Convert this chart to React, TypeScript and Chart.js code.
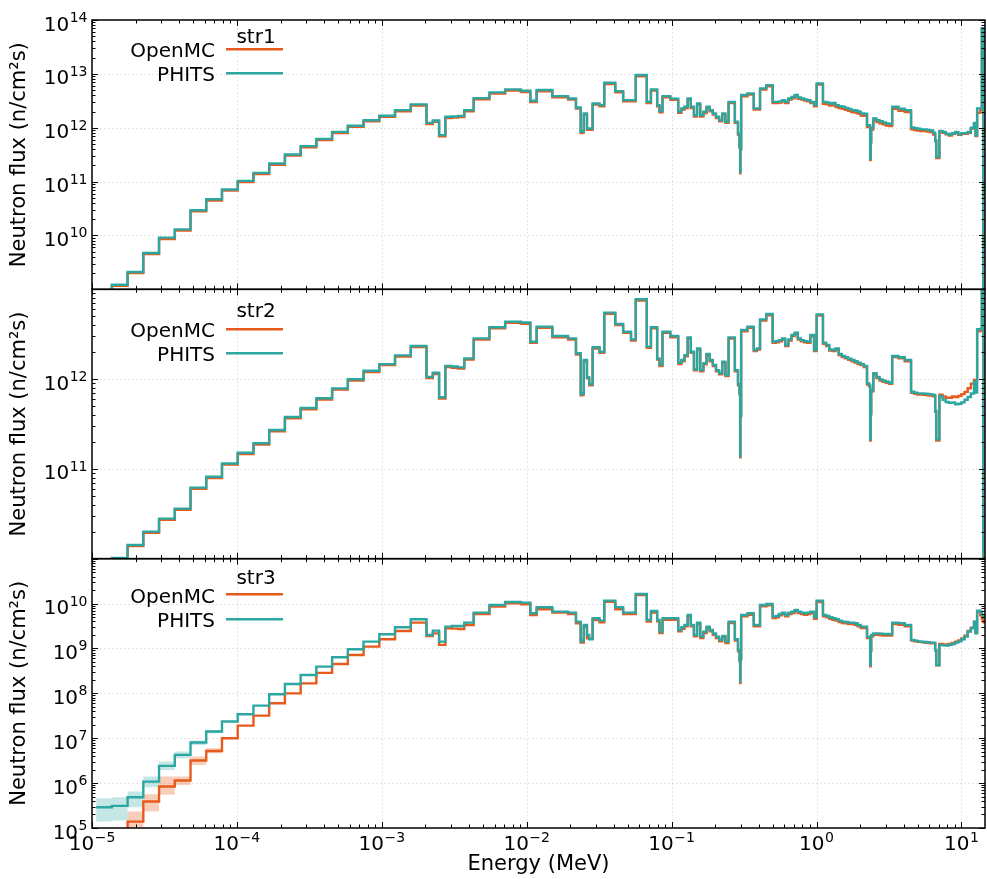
import React, { useEffect, useRef } from "react";
import { Chart, registerables } from "chart.js";

Chart.register(...registerables);

// VITAMIN-J group boundaries (MeV) used for the step plots
const energyEdges = [
  1.0677e-5, 1.371e-5, 1.7603e-5, 2.2603e-5, 2.9023e-5, 3.7266e-5, 4.7851e-5, 6.1442e-5, 7.8893e-5, 1.013e-4,
  1.3007e-4, 1.6702e-4, 2.1445e-4, 2.7536e-4, 3.5357e-4, 4.54e-4, 5.8295e-4, 7.4852e-4, 9.6112e-4, 1.2341e-3,
  1.5846e-3, 2.0347e-3, 2.2487e-3, 2.4852e-3, 2.6126e-3, 2.7465e-3, 3.0354e-3, 3.3546e-3, 3.7074e-3, 4.3074e-3,
  5.5308e-3, 7.1017e-3, 9.1188e-3, 1.0595e-2, 1.1709e-2, 1.5034e-2, 1.9304e-2, 2.1875e-2, 2.3579e-2, 2.4176e-2,
  2.4788e-2, 2.6058e-2, 2.7e-2, 2.85e-2, 3.1828e-2, 3.4307e-2, 4.0868e-2, 4.6309e-2, 5.2475e-2, 5.6562e-2,
  6.7379e-2, 7.2e-2, 7.95e-2, 8.25e-2, 8.6517e-2, 9.8037e-2, 1.1109e-1, 1.1679e-1, 1.2277e-1, 1.2907e-1,
  1.3569e-1, 1.4264e-1, 1.4996e-1, 1.5764e-1, 1.6573e-1, 1.7422e-1, 1.8316e-1, 1.9255e-1, 2.0242e-1, 2.128e-1,
  2.2371e-1, 2.3518e-1, 2.4724e-1, 2.7324e-1, 2.8725e-1, 2.9452e-1, 2.9721e-1, 2.9849e-1, 3.0197e-1, 3.3373e-1,
  3.6883e-1, 3.8774e-1, 4.0762e-1, 4.5049e-1, 4.9787e-1, 5.234e-1, 5.5023e-1, 5.7844e-1, 6.081e-1, 6.3928e-1,
  6.7206e-1, 7.0651e-1, 7.4274e-1, 7.8082e-1, 8.2085e-1, 8.6294e-1, 9.0718e-1, 9.6164e-1, 1.0026, 1.108,
  1.1648, 1.2246, 1.2874, 1.3534, 1.4227, 1.4957, 1.5724, 1.653, 1.7377, 1.8268,
  1.9205, 2.019, 2.1225, 2.2313, 2.3069, 2.3457, 2.3653, 2.3851, 2.466, 2.5924,
  2.7253, 2.865, 3.0119, 3.1664, 3.3287, 3.6788, 4.0657, 4.4933, 4.7237, 4.9659,
  5.2205, 5.4881, 5.7695, 6.0653, 6.3763, 6.5924, 6.7032, 7.0469, 7.4082, 7.788,
  8.1873, 8.6071, 9.0484, 9.5123, 10.0, 10.513, 11.052, 11.618, 12.214, 12.523,
  12.84, 13.499, 13.84, 14.191, 14.55,
];

const str1PHITS = [
  6.3e8, 1.22e9, 2.1e9, 4.73e9, 9.1e9, 1.3e10, 2.94e10, 4.71e10, 7.13e10, 1.03e11,
  1.45e11, 2.17e11, 3.19e11, 4.55e11, 6.22e11, 8.39e11, 1.09e12, 1.38e12, 1.67e12, 2.12e12,
  2.71e12, 1.23e12, 1.36e12, 7.28e11, 7.28e11, 1.6e12, 1.62e12, 1.66e12, 2.12e12, 3.55e12,
  4.53e12, 5.15e12, 4.85e12, 3.16e12, 5.01e12, 3.86e12, 3.5e12, 2.38e12, 8.39e11, 8.5e11,
  1.84e12, 9.68e11, 9.68e11, 2.82e12, 2.63e12, 6.84e12, 4.79e12, 3.26e12, 3.26e12, 9.5e12,
  3.03e12, 5.15e12, 2.63e12, 2.04e12, 3.86e12, 3.47e12, 2.0e12, 2.29e12, 2.45e12, 3.5e12,
  2.45e12, 1.71e12, 2.82e12, 1.71e12, 1.98e12, 2.45e12, 2.12e12, 1.84e12, 1.6e12, 1.38e12,
  1.84e12, 1.29e12, 3.02e12, 1.29e12, 7.76e11, 4.47e11, 1.51e11, 4.12e11, 4.04e12, 4.34e12,
  2.29e12, 2.29e12, 5.37e12, 6.19e12, 3.02e12, 3.02e12, 3.09e12, 3.24e12, 3.02e12, 3.5e12,
  3.72e12, 4.04e12, 3.63e12, 3.5e12, 3.36e12, 3.24e12, 3.02e12, 2.63e12, 6.65e12, 3.02e12,
  2.95e12, 2.82e12, 2.88e12, 2.63e12, 2.51e12, 2.45e12, 2.34e12, 2.24e12, 2.12e12, 2.09e12,
  2.0e12, 1.84e12, 1.82e12, 1.12e12, 1.12e12, 2.69e11, 5.62e11, 1.0e12, 1.48e12, 1.38e12,
  1.32e12, 1.26e12, 1.2e12, 1.17e12, 2.45e12, 2.25e12, 2.12e12, 1.01e12, 9.77e11, 9.55e11,
  9.33e11, 9.33e11, 9.12e11, 8.91e11, 8.05e11, 5.89e11, 2.88e11, 8.71e11, 8.32e11, 7.76e11,
  7.41e11, 7.94e11, 8.32e11, 7.59e11, 7.94e11, 7.94e11, 8.32e11, 1.0e12, 1.23e12, 7.24e11,
  2.29e12, 2.29e12, 7.08e13, 3e8,
];

const str1OpenMC = [
  6.0e8, 1.16e9, 2.0e9, 4.5e9, 8.6e9, 1.23e10, 2.8e10, 4.47e10, 6.8e10, 9.8e10,
  1.38e11, 2.06e11, 3.03e11, 4.32e11, 5.9e11, 7.97e11, 1.04e12, 1.31e12, 1.59e12, 2.01e12,
  2.57e12, 1.17e12, 1.29e12, 6.9e11, 6.9e11, 1.52e12, 1.54e12, 1.58e12, 2.01e12, 3.37e12,
  4.3e12, 4.9e12, 4.6e12, 3.0e12, 4.76e12, 3.67e12, 3.33e12, 2.26e12, 7.97e11, 8.1e11,
  1.75e12, 9.2e11, 9.2e11, 2.68e12, 2.5e12, 6.5e12, 4.55e12, 3.1e12, 3.1e12, 9.0e12,
  2.88e12, 4.9e12, 2.5e12, 1.94e12, 3.67e12, 3.3e12, 1.9e12, 2.18e12, 2.33e12, 3.33e12,
  2.33e12, 1.62e12, 2.68e12, 1.62e12, 1.88e12, 2.33e12, 2.01e12, 1.75e12, 1.52e12, 1.31e12,
  1.75e12, 1.23e12, 2.87e12, 1.23e12, 7.37e11, 4.25e11, 1.43e11, 3.91e11, 3.84e12, 4.12e12,
  2.18e12, 2.18e12, 5.1e12, 5.88e12, 2.87e12, 2.87e12, 2.94e12, 3.08e12, 2.87e12, 3.33e12,
  3.53e12, 3.84e12, 3.45e12, 3.33e12, 3.19e12, 3.08e12, 2.87e12, 2.5e12, 6.32e12, 2.78e12,
  2.71e12, 2.59e12, 2.65e12, 2.42e12, 2.31e12, 2.25e12, 2.15e12, 2.06e12, 1.95e12, 1.92e12,
  1.84e12, 1.69e12, 1.67e12, 1.03e12, 1.03e12, 2.5e11, 5.2e11, 9.3e11, 1.37e12, 1.27e12,
  1.21e12, 1.16e12, 1.1e12, 1.08e12, 2.25e12, 2.07e12, 1.95e12, 9.4e11, 9.1e11, 8.9e11,
  8.7e11, 8.7e11, 8.5e11, 8.3e11, 7.5e11, 5.6e11, 2.74e11, 8.45e11, 8.07e11, 7.53e11,
  7.19e11, 7.7e11, 8.07e11, 7.36e11, 7.7e11, 7.7e11, 8.07e11, 9.7e11, 1.19e12, 7.0e11,
  1.9e12, 2.15e12, 6.9e13, 3e8,
];

const str2PHITS = [
  6.3e9, 1.02e10, 1.42e10, 2.0e10, 2.79e10, 3.61e10, 6.18e10, 8.18e10, 1.15e11, 1.51e11,
  1.93e11, 2.71e11, 3.78e11, 4.76e11, 6.11e11, 7.89e11, 9.95e11, 1.24e12, 1.47e12, 1.84e12,
  2.34e12, 1.06e12, 1.18e12, 6.27e11, 6.27e11, 1.4e12, 1.38e12, 1.35e12, 1.7e12, 2.84e12,
  3.78e12, 4.37e12, 4.27e12, 2.61e12, 3.84e12, 3.02e12, 2.84e12, 1.94e12, 6.82e11, 6.92e11,
  1.63e12, 1.05e12, 8.81e11, 2.26e12, 2.02e12, 5.5e12, 4.11e12, 3.37e12, 2.77e12, 7.74e12,
  2.3e12, 3.78e12, 1.7e12, 1.44e12, 3.37e12, 3.02e12, 1.52e12, 1.63e12, 1.85e12, 2.92e12,
  2.02e12, 1.29e12, 2.2e12, 1.26e12, 1.5e12, 1.91e12, 1.63e12, 1.44e12, 1.26e12, 1.16e12,
  1.56e12, 1.11e12, 2.92e12, 1.26e12, 8.81e11, 6.93e11, 1.39e11, 3.98e11, 3.52e12, 3.84e12,
  2.11e12, 2.2e12, 4.63e12, 5.31e12, 2.61e12, 2.65e12, 2.72e12, 2.84e12, 2.4e12, 2.77e12,
  3.1e12, 3.29e12, 2.84e12, 2.72e12, 2.65e12, 2.61e12, 3.1e12, 2.11e12, 5.26e12, 2.55e12,
  2.4e12, 2.14e12, 2.11e12, 2.2e12, 1.91e12, 1.81e12, 1.75e12, 1.69e12, 1.63e12, 1.58e12,
  1.52e12, 1.47e12, 1.4e12, 8.97e11, 8.59e11, 2.13e11, 4.17e11, 7.55e11, 1.16e12, 1.06e12,
  9.93e11, 9.62e11, 9.35e11, 9.12e11, 1.81e12, 1.75e12, 1.63e12, 7.24e11, 7.06e11, 6.93e11,
  6.93e11, 6.89e11, 6.82e11, 6.76e11, 6.65e11, 4.45e11, 2.13e11, 6.46e11, 5.89e11, 5.56e11,
  5.43e11, 5.5e11, 5.25e11, 5.31e11, 5.5e11, 5.89e11, 6.31e11, 6.92e11, 9.33e11, 7.08e11,
  3.59e12, 3.63e12, 5.0e13, 4e9,
];

const str2OpenMC = [
  6.1e9, 9.9e9, 1.38e10, 1.94e10, 2.71e10, 3.5e10, 6.0e10, 7.93e10, 1.12e11, 1.46e11,
  1.87e11, 2.63e11, 3.67e11, 4.62e11, 5.93e11, 7.65e11, 9.65e11, 1.2e12, 1.43e12, 1.78e12,
  2.27e12, 1.03e12, 1.14e12, 6.08e11, 6.08e11, 1.36e12, 1.34e12, 1.31e12, 1.65e12, 2.75e12,
  3.67e12, 4.24e12, 4.14e12, 2.53e12, 3.72e12, 2.93e12, 2.75e12, 1.88e12, 6.62e11, 6.71e11,
  1.58e12, 1.02e12, 8.55e11, 2.19e12, 1.96e12, 5.34e12, 3.99e12, 3.27e12, 2.69e12, 7.51e12,
  2.23e12, 3.67e12, 1.65e12, 1.4e12, 3.27e12, 2.93e12, 1.47e12, 1.58e12, 1.79e12, 2.83e12,
  1.96e12, 1.25e12, 2.13e12, 1.22e12, 1.46e12, 1.85e12, 1.58e12, 1.4e12, 1.22e12, 1.13e12,
  1.51e12, 1.08e12, 2.83e12, 1.22e12, 8.55e11, 6.72e11, 1.35e11, 3.86e11, 3.41e12, 3.72e12,
  2.05e12, 2.13e12, 4.49e12, 5.15e12, 2.53e12, 2.57e12, 2.64e12, 2.75e12, 2.33e12, 2.69e12,
  3.01e12, 3.19e12, 2.75e12, 2.64e12, 2.57e12, 2.53e12, 3.01e12, 2.05e12, 5.1e12, 2.47e12,
  2.33e12, 2.08e12, 2.05e12, 2.13e12, 1.85e12, 1.76e12, 1.7e12, 1.64e12, 1.58e12, 1.53e12,
  1.47e12, 1.43e12, 1.36e12, 8.7e11, 8.33e11, 2.07e11, 4.04e11, 7.32e11, 1.13e12, 1.03e12,
  9.63e11, 9.33e11, 9.07e11, 8.85e11, 1.76e12, 1.7e12, 1.58e12, 7.02e11, 6.85e11, 6.72e11,
  6.72e11, 6.68e11, 6.62e11, 6.56e11, 6.45e11, 4.32e11, 2.07e11, 6.7e11, 6.4e11, 6.2e11,
  6.2e11, 6.4e11, 6.3e11, 6.5e11, 6.8e11, 7.2e11, 7.9e11, 8.9e11, 9.8e11, 9.8e11,
  3.4e12, 3.5e12, 4.9e13, 4e9,
];

const str3PHITS = [
  2.9e5, 3.11e5, 4.85e5, 1.08e6, 2.42e6, 4.25e6, 8.0e6, 1.41e7, 2.35e7, 3.42e7,
  5.33e7, 9.53e7, 1.62e8, 2.57e8, 3.94e8, 6.35e8, 9.57e8, 1.42e9, 2.07e9, 2.96e9,
  4.46e9, 2.0e9, 2.49e9, 1.42e9, 1.42e9, 3.06e9, 3.17e9, 3.17e9, 3.76e9, 6.28e9,
  9.29e9, 1.08e10, 1.05e10, 6.07e9, 8.26e9, 6.61e9, 6.28e9, 3.95e9, 1.42e9, 1.55e9,
  3.33e9, 2.0e9, 1.6e9, 4.7e9, 4.17e9, 1.16e10, 8.26e9, 6.28e9, 6.28e9, 1.63e10,
  4.31e9, 6.84e9, 4.31e9, 2.37e9, 4.7e9, 4.7e9, 2.58e9, 2.96e9, 3.33e9, 5.57e9,
  3.33e9, 2.0e9, 3.76e9, 1.83e9, 2.37e9, 3.06e9, 2.58e9, 2.17e9, 1.83e9, 1.55e9,
  1.9e9, 1.42e9, 3.95e9, 1.6e9, 9.25e8, 5.55e8, 1.82e8, 6.04e8, 5.57e9, 6.07e9,
  3.33e9, 3.33e9, 9.29e9, 9.8e9, 5.12e9, 5.3e9, 5.86e9, 6.28e9, 5.57e9, 6.28e9,
  6.61e9, 7.19e9, 6.61e9, 6.28e9, 6.07e9, 6.28e9, 6.61e9, 4.94e9, 1.16e10, 5.57e9,
  5.3e9, 4.94e9, 4.7e9, 4.47e9, 4.17e9, 3.95e9, 3.89e9, 3.76e9, 3.76e9, 3.63e9,
  3.33e9, 3.06e9, 3.06e9, 1.83e9, 1.83e9, 4.29e8, 9.25e8, 2.0e9, 2.17e9, 2.17e9,
  2.14e9, 2.1e9, 2.1e9, 2.07e9, 3.76e9, 3.63e9, 3.33e9, 1.55e9, 1.49e9, 1.44e9,
  1.42e9, 1.39e9, 1.37e9, 1.35e9, 1.35e9, 9.25e8, 4.29e8, 1.2e9, 1.17e9, 1.16e9,
  1.2e9, 1.26e9, 1.35e9, 1.44e9, 1.6e9, 1.83e9, 2.37e9, 2.81e9, 3.95e9, 2.17e9,
  6.95e9, 6.61e9, 5.62e9, 5.0e9,
];

const str3OpenMC = [
  6e4, 7e4, 1.39e5, 3.88e5, 8.38e5, 1.14e6, 3.18e6, 5.21e6, 9.98e6, 1.91e7,
  3.19e7, 6.01e7, 1.0e8, 1.67e8, 2.85e8, 4.51e8, 7.16e8, 1.1e9, 1.6e9, 2.45e9,
  3.76e9, 1.9e9, 2.17e9, 1.2e9, 1.2e9, 2.81e9, 2.76e9, 2.72e9, 3.33e9, 5.86e9,
  8.53e9, 1.01e10, 9.62e9, 5.57e9, 7.45e9, 6.28e9, 5.86e9, 3.63e9, 1.35e9, 1.35e9,
  3.06e9, 1.68e9, 1.68e9, 4.31e9, 3.82e9, 1.1e10, 7.45e9, 5.86e9, 5.86e9, 1.55e10,
  3.95e9, 6.28e9, 4.0e9, 2.2e9, 4.37e9, 4.37e9, 2.4e9, 2.75e9, 3.1e9, 5.18e9,
  3.1e9, 1.86e9, 3.5e9, 1.7e9, 2.2e9, 2.85e9, 2.4e9, 2.02e9, 1.7e9, 1.44e9,
  1.77e9, 1.32e9, 3.67e9, 1.49e9, 8.6e8, 5.16e8, 1.69e8, 5.62e8, 5.18e9, 5.65e9,
  3.1e9, 3.1e9, 8.64e9, 9.11e9, 4.76e9, 4.93e9, 5.45e9, 5.84e9, 5.18e9, 5.84e9,
  6.15e9, 6.69e9, 6.15e9, 5.84e9, 5.65e9, 5.84e9, 6.15e9, 4.59e9, 1.08e10, 5.18e9,
  4.93e9, 4.59e9, 4.37e9, 4.16e9, 3.88e9, 3.67e9, 3.62e9, 3.5e9, 3.5e9, 3.38e9,
  3.1e9, 2.85e9, 2.85e9, 1.7e9, 1.7e9, 4.0e8, 8.6e8, 1.86e9, 2.02e9, 2.02e9,
  1.99e9, 1.95e9, 1.95e9, 1.93e9, 3.5e9, 3.38e9, 3.1e9, 1.5e9, 1.45e9, 1.4e9,
  1.38e9, 1.35e9, 1.33e9, 1.31e9, 1.31e9, 9.0e8, 4.2e8, 1.26e9, 1.23e9, 1.22e9,
  1.26e9, 1.32e9, 1.42e9, 1.51e9, 1.68e9, 1.92e9, 2.45e9, 2.9e9, 3.9e9, 2.3e9,
  6.6e9, 5.5e9, 4.5e9, 3.8e9,
];

// statistical uncertainty bands, str3, first eight groups
const str3PHITSHigh = [4.6e5, 4.85e5, 6.49e5, 1.4e6, 3.02e6, 5.05e6, 8.87e6, 1.53e7];
const str3PHITSLow = [1.39e5, 1.47e5, 2.9e5, 8.09e5, 1.97e6, 3.58e6, 7.1e6, 1.29e7];
const str3OpenMCHigh = [9e4, 9e4, 2.33e5, 5.66e5, 1.4e6, 1.4e6, 3.9e6, 5.98e6];
const str3OpenMCLow = [4e4, 4e4, 6.3e4, 2.33e5, 5.47e5, 9.12e5, 2.54e6, 4.62e6];

// tick values and their exponent labels (rendered as 10^exp)
const xTickValues = [1e-5, 1e-4, 1e-3, 1e-2, 1e-1, 1, 10];
const xTickExponents = ["-5", "-4", "-3", "-2", "-1", "0", "1"];
const y1TickValues = [1e10, 1e11, 1e12, 1e13, 1e14];
const y1TickExponents = ["10", "11", "12", "13", "14"];
const y2TickValues = [1e11, 1e12];
const y2TickExponents = ["11", "12"];
const y3TickValues = [1e5, 1e6, 1e7, 1e8, 1e9, 1e10];
const y3TickExponents = ["5", "6", "7", "8", "9", "10"];

const panelTitles = ["str1", "str2", "str3"];
const seriesNames = ["OpenMC", "PHITS"];

const TEAL = "#2ba6a1";
const ORANGE = "#e85a1c";
const FONT = "'DejaVu Sans', 'Bitstream Vera Sans', sans-serif";
const LINE_W = 2.4;

function stepPoints(values: number[]) {
  const pts = values.map((v, i) => ({ x: energyEdges[i], y: v }));
  pts.push({ x: energyEdges[values.length], y: values[values.length - 1] });
  return pts;
}

const yAxes = [
  { id: "y1", values: y1TickValues, exps: y1TickExponents },
  { id: "y2", values: y2TickValues, exps: y2TickExponents },
  { id: "y3", values: y3TickValues, exps: y3TickExponents },
];

// legend placement (px) per panel: title baseline, row baselines, row line y
const legendLayout = [
  { title: 42.7, rows: [56.7, 81], lines: [49.3, 73.3] },
  { title: 317.3, rows: [336.7, 361], lines: [329.3, 353.3] },
  { title: 584, rows: [603.3, 626.7], lines: [594.3, 619.3] },
];

const clipPlugin = {
  id: "panelClip",
  beforeDatasetDraw(chart: any, args: any) {
    const meta = args.meta;
    const ys = chart.scales[meta.yAxisID];
    const xs = chart.scales.x;
    const ctx = chart.ctx;
    ctx.save();
    ctx.beginPath();
    ctx.rect(xs.left, ys.top, xs.right - xs.left, ys.bottom - ys.top);
    ctx.clip();
  },
  afterDatasetDraw(chart: any) {
    chart.ctx.restore();
  },
};

function fmtExp(e: string) {
  return e.replace("-", "\u2212");
}

const axesPlugin = {
  id: "panelAxes",
  beforeDatasetsDraw(chart: any) {
    const ctx = chart.ctx;
    const xs = chart.scales.x;
    ctx.save();
    ctx.strokeStyle = "rgba(0,0,0,0.10)";
    ctx.lineWidth = 1;
    ctx.setLineDash([2, 2]);
    yAxes.forEach(({ id }) => {
      const ys = chart.scales[id];
      const e0 = Math.round(Math.log10(ys.min));
      const e1 = Math.round(Math.log10(ys.max));
      for (let e = e0 + 1; e < e1; e++) {
        const py = Math.round(ys.getPixelForValue(Math.pow(10, e))) + 0.5;
        ctx.beginPath();
        ctx.moveTo(xs.left, py);
        ctx.lineTo(xs.right, py);
        ctx.stroke();
      }
      xTickValues.forEach((v) => {
        if (v <= xs.min || v >= xs.max) return;
        const px = Math.round(xs.getPixelForValue(v)) + 0.5;
        ctx.beginPath();
        ctx.moveTo(px, ys.top);
        ctx.lineTo(px, ys.bottom);
        ctx.stroke();
      });
    });
    ctx.restore();
  },
  afterDatasetsDraw(chart: any) {
    const ctx = chart.ctx;
    const xs = chart.scales.x;
    ctx.save();
    ctx.strokeStyle = "#000";
    ctx.lineWidth = 1;
    const majorLen = 6;
    const minorLen = 3.5;
    yAxes.forEach(({ id }) => {
      const ys = chart.scales[id];
      for (let e = -5; e <= 1; e++) {
        for (let k = 1; k <= 9; k++) {
          const v = k * Math.pow(10, e);
          if (v < xs.min || v > xs.max) continue;
          const px = Math.round(xs.getPixelForValue(v)) + 0.5;
          const len = k === 1 ? majorLen : minorLen;
          ctx.beginPath();
          ctx.moveTo(px, ys.top);
          ctx.lineTo(px, ys.top + len);
          ctx.moveTo(px, ys.bottom);
          ctx.lineTo(px, ys.bottom - len);
          ctx.stroke();
        }
      }
      const e0 = Math.round(Math.log10(ys.min));
      const e1 = Math.round(Math.log10(ys.max));
      for (let e = e0; e <= e1; e++) {
        for (let k = 1; k <= 9; k++) {
          const v = k * Math.pow(10, e);
          if (v < ys.min * 0.999 || v > ys.max * 1.001) continue;
          const py = Math.round(ys.getPixelForValue(v)) + 0.5;
          const len = k === 1 ? majorLen : minorLen;
          ctx.beginPath();
          ctx.moveTo(xs.left, py);
          ctx.lineTo(xs.left + len, py);
          ctx.moveTo(xs.right, py);
          ctx.lineTo(xs.right - len, py);
          ctx.stroke();
        }
      }
      ctx.lineWidth = 1.5;
      ctx.strokeRect(xs.left, ys.top, xs.right - xs.left, ys.bottom - ys.top);
      ctx.lineWidth = 1;
    });
    ctx.restore();
  },
  afterDraw(chart: any) {
    const ctx = chart.ctx;
    const xs = chart.scales.x;
    ctx.save();
    ctx.fillStyle = "#000";
    ctx.textBaseline = "alphabetic";
    const baseFont = "20px " + FONT;
    const expFont = "14px " + FONT;

    // y tick labels: 10^n, right aligned against the axis
    yAxes.forEach(({ id, values, exps }) => {
      const ys = chart.scales[id];
      values.forEach((v, i) => {
        const py = ys.getPixelForValue(v);
        const exp = fmtExp(exps[i]);
        ctx.font = expFont;
        const ew = ctx.measureText(exp).width;
        ctx.textAlign = "right";
        ctx.fillText(exp, 87.5, py + 2);
        ctx.font = baseFont;
        ctx.fillText("10", 87.5 - ew - 0.5, py + 10.5);
      });
    });

    // x tick labels centred under the ticks
    xTickValues.forEach((v, i) => {
      const px = xs.getPixelForValue(v);
      const exp = fmtExp(xTickExponents[i]);
      ctx.font = expFont;
      const ew = ctx.measureText(exp).width;
      ctx.font = baseFont;
      const bw = ctx.measureText("10").width;
      const left = px - (bw + ew + 0.5) / 2;
      ctx.textAlign = "left";
      ctx.fillText("10", left, 850);
      ctx.font = expFont;
      ctx.fillText(exp, left + bw + 0.5, 841.5);
    });

    // legends
    ctx.font = "20px " + FONT;
    const textRight = 215;
    const lineStart = 226;
    const lineEnd = 283;
    const titleCenter = 256;
    legendLayout.forEach((lay, i) => {
      ctx.textAlign = "center";
      ctx.fillText(panelTitles[i], titleCenter, lay.title);
      const colors = [ORANGE, TEAL];
      seriesNames.forEach((name, j) => {
        ctx.textAlign = "right";
        ctx.fillText(name, textRight, lay.rows[j]);
        ctx.strokeStyle = colors[j];
        ctx.lineWidth = LINE_W;
        ctx.beginPath();
        ctx.moveTo(lineStart, lay.lines[j]);
        ctx.lineTo(lineEnd, lay.lines[j]);
        ctx.stroke();
      });
    });
    ctx.restore();
  },
};

function yScale(min: number, max: number, weight: number, values: number[]) {
  return {
    type: "logarithmic",
    position: "left",
    stack: "panels",
    stackWeight: 1,
    weight,
    min,
    max,
    offset: false,
    afterBuildTicks: (s: any) => {
      s.ticks = values.map((v) => ({ value: v }));
    },
    afterFit: (s: any) => {
      s.width = 92;
    },
    grid: { display: false, drawTicks: false },
    border: { display: false },
    ticks: { display: false },
    title: {
      display: true,
      text: "Neutron flux (n/cm\u00B2s)",
      color: "#000",
      font: { family: FONT, size: 21 },
      padding: { top: 7, bottom: 0 },
    },
  };
}

export default function App() {
  const canvasRef = useRef<HTMLCanvasElement | null>(null);

  useEffect(() => {
    if (!canvasRef.current) return;
    const panels = [
      { axis: "y1", openmc: str1OpenMC, phits: str1PHITS },
      { axis: "y2", openmc: str2OpenMC, phits: str2PHITS },
      { axis: "y3", openmc: str3OpenMC, phits: str3PHITS },
    ];
    const base = {
      pointRadius: 0,
      stepped: "before" as const,
      borderWidth: LINE_W,
      borderJoinStyle: "miter" as const,
      tension: 0,
    };
    const datasets: any[] = [];
    panels.forEach((p, i) => {
      datasets.push({ ...base, label: `${panelTitles[i]} PHITS`, data: stepPoints(p.phits), yAxisID: p.axis, borderColor: TEAL, fill: false, order: 0 });
      datasets.push({ ...base, label: `${panelTitles[i]} OpenMC`, data: stepPoints(p.openmc), yAxisID: p.axis, borderColor: ORANGE, fill: false, order: 1 });
    });
    datasets.push({ ...base, label: "str3 PHITS upper", data: stepPoints(str3PHITSHigh), yAxisID: "y3", borderColor: "rgba(0,0,0,0)", fill: false, order: 5 });
    datasets.push({ ...base, label: "str3 PHITS lower", data: stepPoints(str3PHITSLow), yAxisID: "y3", borderColor: "rgba(0,0,0,0)", fill: "-1", backgroundColor: "rgba(43,166,161,0.28)", order: 5 });
    datasets.push({ ...base, label: "str3 OpenMC upper", data: stepPoints(str3OpenMCHigh), yAxisID: "y3", borderColor: "rgba(0,0,0,0)", fill: false, order: 6 });
    datasets.push({ ...base, label: "str3 OpenMC lower", data: stepPoints(str3OpenMCLow), yAxisID: "y3", borderColor: "rgba(0,0,0,0)", fill: "-1", backgroundColor: "rgba(232,90,28,0.3)", order: 6 });

    const chart = new Chart(canvasRef.current, {
      type: "line",
      data: { datasets },
      options: {
        animation: false,
        responsive: false,
        devicePixelRatio: 1,
        events: [],
        layout: { padding: { top: 20, right: 2, left: 0, bottom: 0 } },
        plugins: { legend: { display: false }, tooltip: { enabled: false } },
        scales: {
          x: {
            type: "logarithmic",
            position: "bottom",
            min: 1e-5,
            max: 14.55,
            afterBuildTicks: (s: any) => {
              s.ticks = xTickValues.map((v) => ({ value: v }));
            },
            afterFit: (s: any) => {
              s.height = 51;
            },
            grid: { display: false, drawTicks: false },
            border: { display: false },
            ticks: { display: false },
            title: {
              display: true,
              text: "Energy (MeV)",
              color: "#000",
              font: { family: FONT, size: 21 },
              padding: { top: 0, bottom: 2 },
            },
          },
          y1: yScale(1e9, 1e14, 3, y1TickValues),
          y2: yScale(1e10, 1e13, 2, y2TickValues),
          y3: yScale(1e5, 1e11, 1, y3TickValues),
        } as any,
      },
      plugins: [clipPlugin, axesPlugin],
    } as any);
    return () => chart.destroy();
  }, []);

  return (
    <div style={{ position: "absolute", left: 0, top: 0, width: 987, height: 879, background: "#fff" }}>
      <canvas ref={canvasRef} width={987} height={879} style={{ width: 987, height: 879, display: "block" }} />
    </div>
  );
}
